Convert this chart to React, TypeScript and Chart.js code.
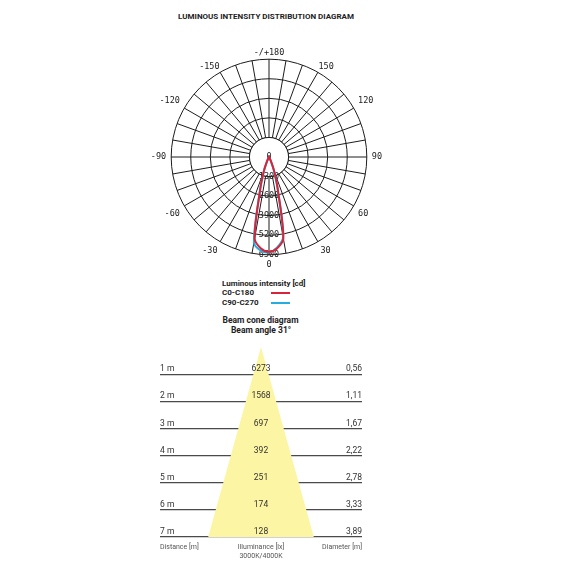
import React, { useEffect, useRef } from 'react';
import { Chart, registerables } from 'chart.js';

Chart.register(...registerables);

// ---- Polar (luminous intensity) data ----
const polarLabels = [
  180, 175, 170, 165, 160, 155, 150, 145, 140, 135, 130, 125, 120, 115, 110, 105, 100, 95,
  90, 85, 80, 75, 70, 65, 60, 55, 50, 45, 40, 35, 30, 25, 20, 15, 10, 5,
  0, -5, -10, -15, -20, -25, -30, -35, -40, -45, -50, -55, -60, -65, -70, -75, -80, -85,
  -90, -95, -100, -105, -110, -115, -120, -125, -130, -135, -140, -145, -150, -155, -160, -165, -170, -175,
];
const gammaAngles = [0, 5, 10, 15, 20, 25, 30];
const c0Values = [6300, 6100, 5500, 2300, 1000, 300, 0];
const c180Values = [6300, 6100, 5500, 2300, 1000, 300, 0];
const c90Values = [6330, 6050, 5400, 2250, 950, 280, 0];
const c270Values = [6350, 6250, 5750, 2350, 1000, 300, 0];
const intensityMax = 6500;
const intensityStep = 1300;

// ---- Beam cone data ----
const distances = [1, 2, 3, 4, 5, 6, 7];
const illuminance = [6273, 1568, 697, 392, 251, 174, 128];
const diameters = [0.56, 1.11, 1.67, 2.22, 2.78, 3.33, 3.89];

const RED = '#d8243a';
const CYAN = '#27acdf';
const GRID = '#1c1c1c';
const YELLOW = 'rgb(252, 245, 163)';

function planeSeries(right: number[], left: number[]) {
  return polarLabels.map((a) => {
    const k = gammaAngles.indexOf(Math.abs(a));
    if (k < 0) return 0;
    return a >= 0 ? right[k] : left[k];
  });
}

const polarText = (a: number) => (a === 180 ? '-/+180' : a % 30 === 0 ? String(a) : '');

const labelPadding = (a: number) => {
  if (a === 180) return 1.5;
  if (Math.abs(a) === 150) return 1;
  return polarText(a) ? 5 : 0;
};

const polarPlugin = {
  id: 'polarExtras',
  beforeDatasetsDraw(chart: any) {
    const s = chart.scales.r;
    const ctx = chart.ctx;
    const r1 = s.getDistanceFromCenterForValue(s.ticks[1].value);
    ctx.save();
    ctx.fillStyle = '#fff';
    ctx.beginPath();
    ctx.arc(s.xCenter, s.yCenter, r1, 0, Math.PI * 2);
    ctx.fill();
    ctx.strokeStyle = GRID;
    ctx.lineWidth = 1;
    ctx.stroke();
    ctx.font = '8.5px "DejaVu Sans Mono"';
    ctx.fillStyle = '#222';
    ctx.textAlign = 'center';
    ctx.textBaseline = 'middle';
    s.ticks.forEach((t: any) => {
      const d = s.getDistanceFromCenterForValue(t.value);
      ctx.fillText(String(t.value), s.xCenter, s.yCenter + d);
    });
    ctx.restore();
  },
};

const fmt = (v: number) => v.toFixed(2).replace('.', ',');

const conePlugin = {
  id: 'coneExtras',
  afterDraw(chart: any) {
    const ctx = chart.ctx;
    const xs = chart.scales.x;
    const ys = chart.scales.y;
    const area = chart.chartArea;
    const cx = xs.getPixelForValue(0);
    ctx.save();
    ctx.font = '8.5px Roboto';
    ctx.fillStyle = '#333';
    ctx.textAlign = 'center';
    ctx.textBaseline = 'middle';
    illuminance.forEach((v, i) => {
      ctx.fillText(String(v), cx, ys.getPixelForValue(distances[i]) - 5);
    });
    ctx.font = '7px Roboto';
    ctx.fillStyle = '#555';
    const fy = area.bottom + 10;
    ctx.textAlign = 'left';
    ctx.fillText('Distance [m]', area.left, fy);
    ctx.textAlign = 'center';
    ctx.fillText('Illuminance [lx]', cx, fy);
    ctx.fillText('3000K/4000K', cx, fy + 9);
    ctx.textAlign = 'right';
    ctx.fillText('Diameter [m]', area.right, fy);
    ctx.restore();
  },
};

export default function App() {
  const polarRef = useRef<HTMLCanvasElement>(null);
  const coneRef = useRef<HTMLCanvasElement>(null);

  useEffect(() => {
    const polar = new Chart(polarRef.current!, {
      type: 'radar',
      data: {
        labels: polarLabels,
        datasets: [
          {
            label: 'C0-C180',
            data: planeSeries(c0Values, c180Values),
            borderColor: RED,
            borderWidth: 2,
            pointRadius: 0,
            fill: false,
            tension: 0.3,
          },
          {
            label: 'C90-C270',
            data: planeSeries(c90Values, c270Values),
            borderColor: CYAN,
            borderWidth: 2,
            pointRadius: 0,
            fill: false,
            tension: 0.3,
          },
        ],
      },
      options: {
        responsive: false,
        animation: false,
        layout: { padding: 0 },
        plugins: { legend: { display: false }, tooltip: { enabled: false } },
        scales: {
          r: {
            min: 0,
            max: intensityMax,
            startAngle: 0,
            ticks: { display: false, stepSize: intensityStep },
            grid: { circular: true, color: GRID, lineWidth: 1 },
            angleLines: {
              display: true,
              color: GRID,
              lineWidth: (c: any) => (c.index % 2 === 0 ? 1 : 0),
            },
            pointLabels: {
              display: true,
              padding: (c: any) => labelPadding(polarLabels[c.index]),
              color: '#222',
              font: (c: any) => ({
                family: 'DejaVu Sans Mono',
                size: polarText(polarLabels[c.index]) ? 8.5 : 1,
              }),
              callback: (label: any) => polarText(Number(label)),
            },
          },
        },
      } as any,
      plugins: [polarPlugin],
    });

    const half = diameters[diameters.length - 1] / 2;
    const last = distances[distances.length - 1];
    const cone = new Chart(coneRef.current!, {
      type: 'scatter',
      data: {
        datasets: [
          {
            data: [
              { x: 0, y: 0 },
              { x: -half, y: last },
              { x: half, y: last },
              { x: 0, y: 0 },
            ],
            showLine: true,
            fill: 'shape',
            backgroundColor: YELLOW,
            borderColor: 'transparent',
            pointRadius: 0,
          },
        ],
      },
      options: {
        responsive: false,
        animation: false,
        layout: { padding: { left: 10, right: 10, top: 10, bottom: 30 } },
        plugins: { legend: { display: false }, tooltip: { enabled: false } },
        scales: {
          x: { type: 'linear', display: false, min: -3.72, max: 3.72 },
          y: {
            type: 'linear',
            position: 'left',
            reverse: true,
            min: 0,
            max: 7,
            z: 1,
            border: { display: false },
            grid: {
              drawTicks: false,
              tickLength: 0,
              lineWidth: 1.2,
              color: (c: any) => (c.tick && c.tick.value === 0 ? 'rgba(0,0,0,0)' : '#4a4a4a'),
            },
            ticks: {
              stepSize: 1,
              mirror: true,
              padding: 0,
              labelOffset: -5,
              color: '#333',
              font: { family: 'Roboto', size: 8.5 },
              callback: (v: any) => (v === 0 ? '' : `${v} m`),
            },
          },
          y2: {
            type: 'linear',
            position: 'right',
            reverse: true,
            min: 0,
            max: 7,
            z: 1,
            border: { display: false },
            grid: { display: false, drawTicks: false, tickLength: 0 },
            ticks: {
              stepSize: 1,
              mirror: true,
              padding: 0,
              labelOffset: -5,
              color: '#333',
              font: { family: 'Roboto', size: 8.5 },
              callback: (v: any) => {
                const k = distances.indexOf(v);
                return k < 0 ? '' : fmt(diameters[k]);
              },
            },
          },
        },
      } as any,
      plugins: [conePlugin],
    });

    return () => {
      polar.destroy();
      cone.destroy();
    };
  }, []);

  const txt = (extra: React.CSSProperties): React.CSSProperties => ({
    position: 'absolute',
    whiteSpace: 'nowrap',
    fontFamily: 'Roboto',
    fontWeight: 700,
    color: '#222',
    ...extra,
  });

  return (
    <div style={{ position: 'absolute', left: 0, top: 0, width: 570, height: 570, background: '#fff' }}>
      <div style={txt({ left: 0, width: 532, top: 12, lineHeight: '10px', fontSize: 8, textAlign: 'center' })}>
        LUMINOUS INTENSITY DISTRIBUTION DIAGRAM
      </div>
      <canvas
        ref={polarRef}
        width={280}
        height={226}
        style={{ position: 'absolute', left: 129, top: 46, width: 280, height: 226 }}
      />
      <div style={txt({ left: 222, top: 279, lineHeight: '10px', fontSize: 8 })}>Luminous intensity [cd]</div>
      <div style={txt({ left: 222, top: 288, lineHeight: '10px', fontSize: 8 })}>C0-C180</div>
      <div style={{ position: 'absolute', left: 271, top: 292, width: 19, height: 2, background: RED }} />
      <div style={txt({ left: 222, top: 298, lineHeight: '10px', fontSize: 8 })}>C90-C270</div>
      <div style={{ position: 'absolute', left: 271, top: 302, width: 19, height: 2, background: CYAN }} />
      <div style={txt({ left: 160, width: 201, top: 315, lineHeight: '10px', fontSize: 8.5, textAlign: 'center' })}>
        Beam cone diagram
      </div>
      <div style={txt({ left: 160, width: 202, top: 325, lineHeight: '10px', fontSize: 8.5, textAlign: 'center' })}>
        Beam angle 31°
      </div>
      <canvas
        ref={coneRef}
        width={222}
        height={230}
        style={{ position: 'absolute', left: 150, top: 337, width: 222, height: 230 }}
      />
    </div>
  );
}
